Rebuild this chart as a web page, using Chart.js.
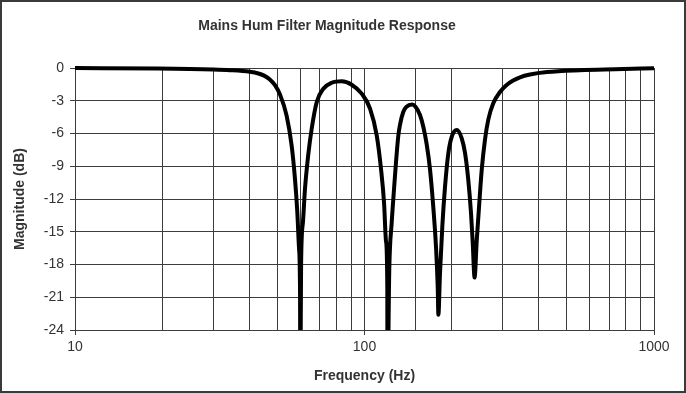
<!DOCTYPE html>
<html>
<head>
<meta charset="utf-8">
<script src="https://cdn.jsdelivr.net/npm/chart.js@4/dist/chart.umd.min.js"></script>
<style>
  html, body { margin: 0; padding: 0; background: #ffffff; }
  #wrap { width: 686px; height: 393px; position: relative; }
  canvas { display: block; outline: 2px solid #3a3a3a; outline-offset: -2px; }
</style>
</head>
<body>
<div id="wrap"><canvas id="c" width="686" height="393"></canvas></div>
<script>
// Frequency (Hz) sample points
const frequencies = [10, 19.2, 30, 34.3, 40.2, 43, 45, 47, 49, 51.1, 53.8, 56.0, 57.5, 58.6, 59.4, 59.9, 60,
  60.4, 61.3, 62.3, 63.9, 65.7, 68.4, 72.1, 77.0, 83.4, 90.3, 97.8, 104.5, 110.2, 114, 116.8, 118.7, 119.9, 120,
  121.8, 124.2, 126.5, 128.5, 130.9, 132.6, 136.1, 139.5, 146, 150, 155.5, 159.7, 164.0, 168.4, 172.9, 176.6, 179.0, 180,
  182.3, 185.7, 189.7, 194.8, 200.1, 208.3, 216.7, 222.5, 228.4, 233.3, 236.5, 240,
  244.2, 248.7, 254.1, 260.9, 267.8, 278.7, 293.8, 308.2, 326.1, 344.5, 372.9, 427, 555, 733, 1000];
// Magnitude (dB) at each frequency
const magnitudes = [0, -0.05, -0.14, -0.2, -0.35, -0.5, -0.7, -1.02, -1.55, -2.45, -4.34, -7.08, -10.1, -13.2, -16.5, -20.8, -30,
  -17.8, -14.1, -11.05, -8.0, -5.56, -3.11, -1.9, -1.35, -1.22, -1.53, -2.35, -3.72, -6.17, -9.22, -12.3, -15.9, -20.2, -30,
  -18.4, -14.1, -11.05, -8.6, -6.17, -5.2, -4.03, -3.57, -3.35, -3.55, -4.3, -5.4, -7.0, -9.3, -12.8, -16.4, -20.0, -22.6,
  -18.8, -14.5, -10.9, -7.8, -6.3, -5.68, -6.44, -7.8, -10.3, -13.3, -16.0, -19.2,
  -15.8, -12.7, -9.3, -6.5, -4.7, -3.2, -2.2, -1.6, -1.15, -0.85, -0.6, -0.37, -0.2, -0.11, -0.02];
const xTickLabels = [10, 100, 1000];
const yTickValues = [0, -3, -6, -9, -12, -15, -18, -21, -24];

const chartTitle = 'Mains Hum Filter Magnitude Response';
const xTitle = 'Frequency (Hz)';
const yTitle = 'Magnitude (dB)';

const FONT = "'Liberation Sans', Arial, Helvetica, sans-serif";
const GRID = '#3c3c3c';
const TEXT = '#333333';

const points = frequencies.map((f, i) => ({ x: f, y: magnitudes[i] }));
const isLabelled = v => xTickLabels.some(t => Math.abs(t - v) < 1e-6);

new Chart(document.getElementById('c'), {
  type: 'line',
  data: {
    datasets: [{
      data: points,
      borderColor: '#000000',
      borderWidth: 4,
      pointRadius: 0,
      fill: false,
      cubicInterpolationMode: 'monotone',
      clip: { left: 3, top: 4, right: 4, bottom: 0 }
    }]
  },
  options: {
    responsive: false,
    animation: false,
    devicePixelRatio: 1,
    layout: { padding: { left: 0, right: 32, top: 0, bottom: 0 } },
    plugins: {
      legend: { display: false },
      tooltip: { enabled: false },
      title: {
        display: true,
        text: chartTitle,
        color: TEXT,
        font: { family: FONT, size: 14, weight: 'bold' },
        padding: { top: 18, bottom: 33.2 }
      }
    },
    scales: {
      x: {
        type: 'logarithmic',
        min: 10,
        max: 1000,
        afterFit: s => { s.height = 63; },
        border: { display: true, color: GRID, width: 1 },
        grid: {
          color: GRID,
          lineWidth: 1,
          drawTicks: true,
          tickLength: 5,
          tickColor: ctx => (ctx.tick && isLabelled(ctx.tick.value)) ? GRID : 'rgba(0,0,0,0)'
        },
        ticks: {
          autoSkip: false,
          maxRotation: 0,
          padding: 4,
          color: TEXT,
          font: { family: FONT, size: 14 },
          callback: v => isLabelled(v) ? String(v) : ''
        },
        title: {
          display: true,
          text: xTitle,
          color: TEXT,
          font: { family: FONT, size: 14, weight: 'bold' },
          padding: { top: 0, bottom: 8 }
        }
      },
      y: {
        min: -24,
        max: 0,
        afterFit: s => { s.width = 75; },
        afterBuildTicks: s => { s.ticks = yTickValues.map(v => ({ value: v })); },
        border: { display: true, color: GRID, width: 1 },
        grid: { color: GRID, lineWidth: 1, drawTicks: true, tickLength: 5, tickColor: GRID },
        ticks: {
          padding: 6,
          color: TEXT,
          font: { family: FONT, size: 14 },
          callback: v => String(v)
        },
        title: {
          display: true,
          text: yTitle,
          color: TEXT,
          font: { family: FONT, size: 14, weight: 'bold' },
          padding: { top: 12, bottom: 0 }
        }
      }
    }
  }
});
</script>
</body>
</html>
